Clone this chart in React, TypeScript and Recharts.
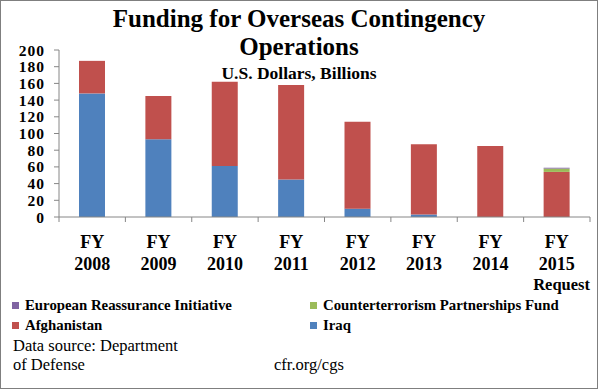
import React from 'react';
import { BarChart, Bar, XAxis, YAxis } from 'recharts';

// FY labels
const YEARS = ['FY 2008', 'FY 2009', 'FY 2010', 'FY 2011', 'FY 2012', 'FY 2013', 'FY 2014', 'FY 2015 Request'];
// values in billions of US dollars
const IRAQ = [148, 93, 61, 45, 10, 3, 0, 0];
const AFGHANISTAN = [39, 52, 101, 113, 104, 84, 85, 54];
const CT_PARTNERSHIPS = [0, 0, 0, 0, 0, 0, 0, 4];
const EURO_REASSURANCE = [0, 0, 0, 0, 0, 0, 0, 1];
const Y_TICKS = [0, 20, 40, 60, 80, 100, 120, 140, 160, 180, 200];

const COLORS = {
  iraq: '#4F81BD',
  afghanistan: '#C0504D',
  ctpf: '#9BBB59',
  eri: '#8064A2',
};

const data = YEARS.map((name, i) => ({
  name,
  iraq: IRAQ[i],
  afghanistan: AFGHANISTAN[i],
  ctpf: CT_PARTNERSHIPS[i],
  eri: EURO_REASSURANCE[i],
}));

const SERIF = 'Liberation Serif';
const W = 598;
const H = 389;
const MARGIN = { top: 50, right: 8, bottom: 102, left: 0 };
const Y_AXIS_W = 59;
const HALF_BAND = (W - MARGIN.right - MARGIN.left - Y_AXIS_W) / YEARS.length / 2;

// category tick: label lines + tick marks at category boundaries
const XTick = (props: any) => {
  const { x, y, payload, index } = props;
  const [fy, year, extra] = String(payload.value).split(' ');
  const axisY = y - 4;
  const txt = { fontFamily: SERIF, fontWeight: 'bold', fill: '#000' };
  return (
    <g>
      <line x1={x - HALF_BAND} x2={x - HALF_BAND} y1={axisY} y2={axisY + 5} stroke="#868686" />
      {index === YEARS.length - 1 && (
        <line x1={x + HALF_BAND} x2={x + HALF_BAND} y1={axisY} y2={axisY + 5} stroke="#868686" />
      )}
      <text x={x} y={y + 27} textAnchor="middle" fontSize={18} {...txt}>{fy}</text>
      <text x={x} y={y + 49} textAnchor="middle" fontSize={18} {...txt}>{year}</text>
      {extra && <text x={x + HALF_BAND} y={y + 69} textAnchor="end" fontSize={16.5} {...txt}>{extra}</text>}
    </g>
  );
};

const LEGEND = [
  { label: 'European Reassurance Initiative', color: COLORS.eri, left: 12, top: 296 },
  { label: 'Counterterrorism Partnerships Fund', color: COLORS.ctpf, left: 310, top: 296 },
  { label: 'Afghanistan', color: COLORS.afghanistan, left: 12, top: 316 },
  { label: 'Iraq', color: COLORS.iraq, left: 310, top: 316 },
];

export default function App() {
  return (
    <div style={{ position: 'absolute', left: 0, top: 0, width: W, height: H, background: '#fff', fontFamily: SERIF }}>
      <div style={{ position: 'absolute', inset: 0, border: '1px solid #7f7f7f', boxSizing: 'border-box' }} />
      <div style={{ position: 'absolute', left: 0, width: W, top: 4, textAlign: 'center', fontWeight: 'bold', fontSize: 25, lineHeight: '29px' }}>
        Funding for Overseas Contingency
      </div>
      <div style={{ position: 'absolute', left: 0, width: W, top: 32, textAlign: 'center', fontWeight: 'bold', fontSize: 25, lineHeight: '29px' }}>
        Operations
      </div>
      <div style={{ position: 'absolute', left: 0, width: W, top: 63, textAlign: 'center', fontWeight: 'bold', fontSize: 17.5, lineHeight: '20px' }}>
        U.S. Dollars, Billions
      </div>

      <BarChart width={W} height={H} data={data} margin={MARGIN} barSize={26}>
        <YAxis
          width={Y_AXIS_W}
          domain={[0, 200]}
          ticks={Y_TICKS}
          interval={0}
          axisLine={{ stroke: '#868686' }}
          tickLine={{ stroke: '#868686' }}
          tickSize={5}
          tickMargin={9}
          tick={{ fontFamily: SERIF, fontWeight: 'bold', fontSize: 15.5, letterSpacing: 1, fill: '#000' }}
        />
        <XAxis
          dataKey="name"
          height={70}
          interval={0}
          axisLine={{ stroke: '#868686' }}
          tickLine={false}
          tickSize={0}
          tickMargin={4}
          tick={<XTick />}
        />
        <Bar dataKey="iraq" stackId="a" fill={COLORS.iraq} isAnimationActive={false} />
        <Bar dataKey="afghanistan" stackId="a" fill={COLORS.afghanistan} isAnimationActive={false} />
        <Bar dataKey="ctpf" stackId="a" fill={COLORS.ctpf} isAnimationActive={false} />
        <Bar dataKey="eri" stackId="a" fill={COLORS.eri} isAnimationActive={false} />
      </BarChart>

      {LEGEND.map((it) => (
        <div key={it.label} style={{ position: 'absolute', left: it.left, top: it.top, display: 'flex', alignItems: 'center', fontWeight: 'bold', fontSize: 14.8, lineHeight: '18px' }}>
          <span style={{ display: 'inline-block', width: 7, height: 7, background: it.color, marginRight: 6 }} />
          {it.label}
        </div>
      ))}
      <div style={{ position: 'absolute', left: 13, top: 336, fontSize: 16.5, lineHeight: '19px' }}>
        Data source: Department<br />of Defense
      </div>
      <div style={{ position: 'absolute', left: 274, top: 355, fontSize: 16.5, lineHeight: '19px' }}>
        cfr.org/cgs
      </div>
    </div>
  );
}
